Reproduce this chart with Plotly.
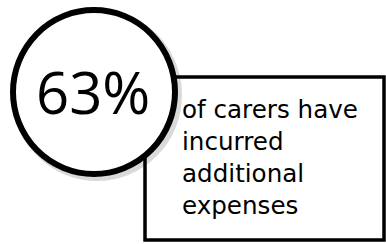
import plotly.graph_objects as go

share_value = 63
share_label = f"{share_value}%"
caption_lines = ["of carers have", "incurred", "additional", "expenses"]

W, H = 386, 244
fig = go.Figure()

# box
fig.add_shape(type="rect", x0=145, y0=77, x1=384, y1=240,
              line=dict(color="black", width=3.5), fillcolor="white", layer="above")
# circle shadow
fig.add_shape(type="circle", x0=15, y0=12, x1=179, y1=178,
              line=dict(color="rgba(0,0,0,0.15)", width=6), fillcolor="rgba(0,0,0,0)", layer="above")
# circle
fig.add_shape(type="circle", x0=13, y0=10, x1=175, y1=174,
              line=dict(color="black", width=6), fillcolor="white", layer="above")

fig.add_annotation(x=93, y=91, text=share_label, showarrow=False,
                   font=dict(family="Open Sans", size=58, color="black"),
                   xanchor="center", yanchor="middle")

fig.add_annotation(x=180, y=157, text="<br>".join(caption_lines), showarrow=False,
                   align="left",
                   font=dict(family="DejaVu Sans", size=24.6, color="black"),
                   xanchor="left", yanchor="middle")

fig.update_xaxes(range=[0, W], visible=False, fixedrange=True)
fig.update_yaxes(range=[H, 0], visible=False, fixedrange=True)
fig.update_layout(width=W, height=H, margin=dict(l=0, r=0, t=0, b=0),
                  plot_bgcolor="white", paper_bgcolor="white", showlegend=False)
fig.write_html("out.html", config={"displayModeBar": False},
               post_script="document.body.style.margin='0';")
